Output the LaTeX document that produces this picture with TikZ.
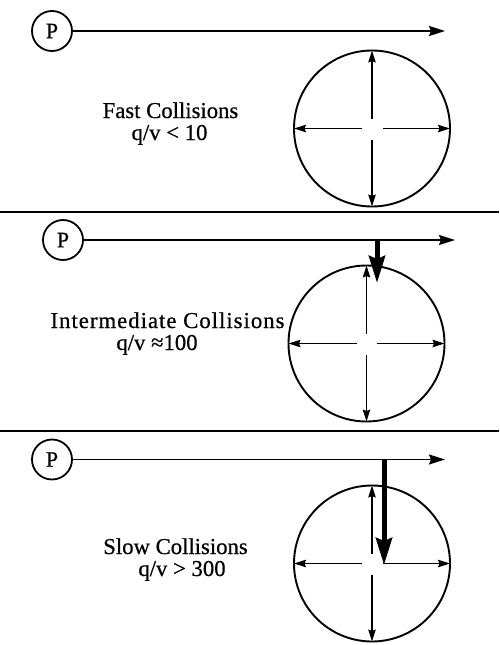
\documentclass[tikz,border=0pt]{standalone}
\usepackage{fontspec}
\setmainfont{Liberation Serif}
\newfontfamily\lblfont{Liberation Serif}[FakeBold=0.6]
\usetikzlibrary{arrows.meta}
\begin{document}
\begin{tikzpicture}[x=1pt,y=-1pt,
  pnode/.style={circle,draw,line width=1.8pt,minimum size=40pt,inner sep=0pt,outer sep=0pt,font=\lblfont\fontsize{22}{22}\selectfont},
  target/.style={circle,draw,line width=1.9pt,minimum size=156pt,inner sep=0pt,outer sep=0pt},
  path/.style={line width=1.9pt,-{Stealth[length=16pt,width=10pt,inset=2pt]}},
  radial/.style={line width=1.1pt,-{Stealth[length=12pt,width=7.5pt,inset=1.5pt]}},
  push/.style={line width=5pt,line cap=butt,-{Stealth[length=27pt,width=16pt,inset=3pt]}},
  divider/.style={line width=2.4pt},
  lbl/.style={anchor=base,inner sep=0pt,align=center,font=\lblfont\fontsize{22.7}{22}\selectfont}]
\useasboundingbox (0,0) rectangle (500,645);

% ---------- Panel 1 ----------
\node[pnode] (p1) at (52,31) {P};
\coordinate (e1) at (445,31);
\draw[path] (p1) -- (e1);
\node[target] (c1) at (372,128.5) {};
\draw[radial] ([xshift=-10pt]c1.center) -- (c1.west);
\draw[radial] ([xshift=11pt]c1.center) -- (c1.east);
\draw[radial] ([yshift=10pt]c1.center) -- (c1.north);
\draw[radial] ([yshift=-11pt]c1.center) -- (c1.south);
\node[lbl] (t1) at (170.5,140) {Fast Collisions\\\hspace*{-2pt}q/v < 10};

\coordinate (d1a) at (0,212);
\coordinate (d1b) at (499,212);
\draw[divider] (d1a) -- (d1b);

% ---------- Panel 2 ----------
\node[pnode] (p2) at (63,240) {P};
\coordinate (e2) at (455,240);
\draw[path] (p2) -- (e2);
\node[target] (c2) at (366.5,343.5) {};
\draw[radial] ([xshift=-10pt]c2.center) -- (c2.west);
\draw[radial] ([xshift=10pt]c2.center) -- (c2.east);
\draw[radial] ([yshift=10pt]c2.center) -- (c2.north);
\draw[radial] ([yshift=-11pt]c2.center) -- (c2.south);
\coordinate (k2a) at (377,239);
\coordinate (k2b) at (377,283);
\draw[push] (k2a) -- (k2b);
\node[lbl] (t2) at (167.5,350) {{\addfontfeature{LetterSpace=4.5}Intermediate Collisions}\\\hspace*{-21pt}q/v ≈100};

\coordinate (d2a) at (0,431);
\coordinate (d2b) at (499,431);
\draw[divider] (d2a) -- (d2b);

% ---------- Panel 3 ----------
\node[pnode] (p3) at (52,459.5) {P};
\coordinate (e3) at (445,459.5);
\draw[path] (p3) -- (e3);
\node[target] (c3) at (372,563.5) {};
\draw[radial] ([xshift=-10pt]c3.center) -- (c3.west);
\draw[radial] ([xshift=11pt]c3.center) -- (c3.east);
\draw[radial] ([yshift=10pt]c3.center) -- (c3.north);
\draw[radial] ([yshift=-11pt]c3.center) -- (c3.south);
\coordinate (k3a) at (384,458.5);
\coordinate (k3b) at (384,565);
\draw[push] (k3a) -- (k3b);
\node[lbl] (t3) at (175.5,576) {Slow Collisions\\\hspace*{13pt}q/v > 300};
\end{tikzpicture}
\end{document}
